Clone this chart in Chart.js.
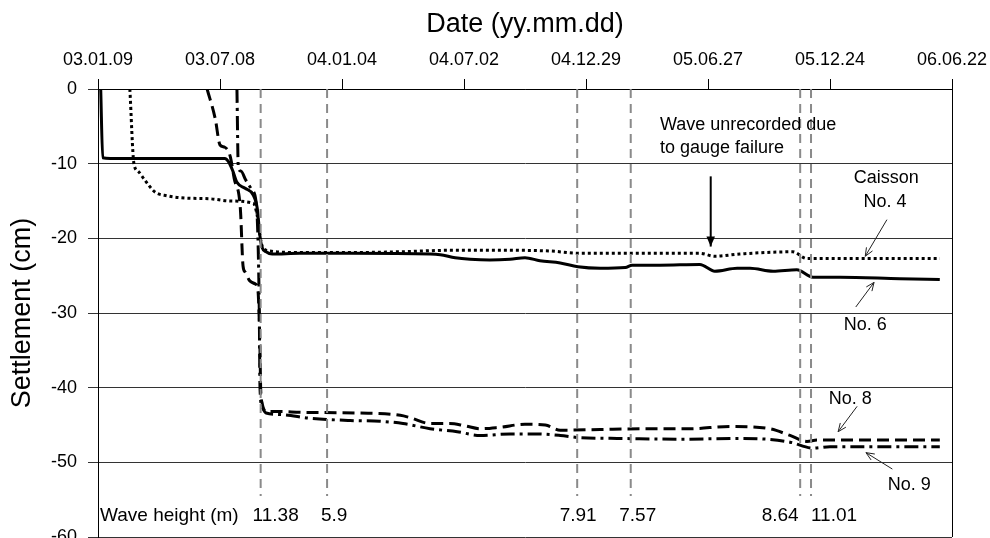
<!DOCTYPE html>
<html>
<head>
<meta charset="utf-8">
<script src="https://cdn.jsdelivr.net/npm/chart.js@4.4.1/dist/chart.umd.min.js"></script>
<style>
  html, body { margin:0; padding:0; background:#fff; overflow:hidden; }
  #wrap { width:990px; height:560px; }
</style>
</head>
<body>
<div id="wrap"><canvas id="chart"></canvas></div>
<script>
// x = days counted from 03.01.09, y = settlement in cm
const BASE = Date.UTC(2003, 0, 9);
const X_MAX = 1260, X_STEP = 180;

// Caisson No. 4 (dotted)
const no4Days = [47, 53, 59, 69, 84, 102, 128, 165, 195, 229, 235, 239, 243, 254, 298, 372, 446, 519, 593, 667, 711, 800, 888, 910, 947, 1025, 1046, 1242];
const no4Vals = [0, -10, -11, -12.2, -13.8, -14.3, -14.6, -14.7, -15.0, -15.3, -17.0, -19.7, -21.2, -21.7, -21.9, -21.9, -21.8, -21.6, -21.6, -21.7, -22.0, -22.0, -22.0, -22.4, -22.1, -21.8, -22.7, -22.7];

// No. 6 (solid)
const no6Days = [4, 7, 18, 187, 193, 199, 205, 217, 229, 235, 239, 242, 248, 257, 298, 372, 490, 505, 527, 549, 578, 608, 630, 652, 682, 708, 741, 778, 788, 829, 888, 910, 943, 962, 996, 1031, 1055, 1095, 1183, 1242];
const no6Vals = [0, -9.2, -9.3, -9.3, -9.8, -11.0, -12.5, -13.3, -14.2, -16.0, -19.7, -21.2, -21.8, -22.1, -22.0, -22.0, -22.1, -22.2, -22.6, -22.8, -22.9, -22.8, -22.6, -23.0, -23.3, -23.8, -24.0, -23.9, -23.6, -23.6, -23.5, -24.4, -24.0, -24.0, -24.4, -24.2, -25.2, -25.2, -25.4, -25.5];

// No. 8 (dashed)
const no8Days = [161, 173, 180, 187, 195, 201, 210, 214, 217, 224, 232, 236, 239, 240, 242, 249, 269, 298, 387, 446, 460, 490, 519, 541, 564, 593, 630, 660, 682, 741, 814, 873, 932, 991, 1021, 1046, 1061, 1242];
const no8Vals = [0, -4, -7.5, -7.8, -9.0, -12.0, -16.0, -23.7, -24.5, -25.7, -26.1, -27, -35, -40.1, -42.0, -43.2, -43.2, -43.3, -43.4, -43.7, -44.0, -44.8, -44.8, -45.1, -45.5, -45.3, -44.9, -45.0, -45.7, -45.6, -45.5, -45.5, -45.2, -45.5, -46.4, -47.2, -47.0, -47.0];

// No. 9 (dash-dot)
const no9Days = [205, 207, 211, 218, 227, 233, 236, 238, 239, 242, 248, 269, 313, 372, 416, 450, 490, 530, 564, 608, 645, 682, 711, 766, 859, 947, 987, 1021, 1055, 1080, 1242];
const no9Vals = [0, -10.5, -11, -12.2, -13.5, -15, -20, -30, -40, -42.5, -43.4, -43.6, -44.1, -44.4, -44.5, -44.8, -45.5, -45.9, -46.4, -46.2, -46.2, -46.4, -46.7, -46.8, -46.9, -46.8, -46.9, -47.3, -48.1, -47.9, -47.9];

// big wave events
const waveDays = [240, 338, 707, 786, 1036, 1052];
const waveHeights = ['11.38', '5.9', '7.91', '7.57', '8.64', '11.01'];
const waveLabelShift = [15, 7, 1, 7, -20, 23]; // px, label placement only
const WAVE_TOP = 0, WAVE_BOTTOM = -54.5;

// text notes (data coords)
const noteText = ['Wave unrecorded due', 'to gauge failure', 'Caisson', 'No. 4', 'No. 6', 'No. 8', 'No. 9'];
const noteX    = [829, 829, 1163, 1161, 1132, 1110, 1197];
const noteY    = [-4.8, -7.9, -11.9, -15.1, -31.6, -41.5, -53.1];
const noteAlign = ['left', 'left', 'center', 'center', 'center', 'center', 'center'];

// leader arrows [x0, y0, x1, y1] (tail -> head)
const leaders = [
  [1164, -17.5, 1132, -22.4],
  [1118, -29.2, 1145, -25.9],
  [1120, -42.5, 1092, -45.9],
  [1172, -50.9, 1133, -48.7]
];
const failArrow = [904, -11.7, 904, -21.1];

const FONT = "'Liberation Sans', Arial, sans-serif";

function pts(days, vals){ return days.map((d, i) => ({ x: d, y: vals[i] })); }

function fmtDate(d){
  const t = new Date(BASE + d * 86400000);
  const p = n => String(n).padStart(2, '0');
  return p(t.getUTCFullYear() % 100) + '.' + p(t.getUTCMonth() + 1) + '.' + p(t.getUTCDate());
}

function series(data, dash){
  return {
    data, borderColor: '#000', borderWidth: 3, borderDash: dash,
    pointRadius: 0, fill: false, cubicInterpolationMode: 'monotone'
  };
}

const waveSets = waveDays.map(d => ({
  data: [{ x: d, y: WAVE_TOP }, { x: d, y: WAVE_BOTTOM }],
  borderColor: '#8a8a8a', borderWidth: 2, borderDash: [9, 6], pointRadius: 0, fill: false
}));

function arrow(ctx, x0, y0, x1, y1, head, filled){
  const a = Math.atan2(y1 - y0, x1 - x0);
  ctx.beginPath(); ctx.moveTo(x0, y0); ctx.lineTo(x1, y1); ctx.stroke();
  ctx.beginPath();
  ctx.moveTo(x1 - head * Math.cos(a - 0.4), y1 - head * Math.sin(a - 0.4));
  ctx.lineTo(x1, y1);
  ctx.lineTo(x1 - head * Math.cos(a + 0.4), y1 - head * Math.sin(a + 0.4));
  if(filled){ ctx.closePath(); ctx.fill(); } else ctx.stroke();
}

const notesPlugin = {
  id: 'notes',
  afterDatasetsDraw(chart){
    const { ctx, chartArea: ca, scales: { x, y } } = chart;
    ctx.save();
    // right frame
    ctx.strokeStyle = '#000'; ctx.lineWidth = 1;
    ctx.beginPath(); ctx.moveTo(ca.right + 0.5, ca.top); ctx.lineTo(ca.right + 0.5, ca.bottom); ctx.stroke();

    ctx.fillStyle = '#000';
    ctx.textBaseline = 'middle';
    ctx.font = '18px ' + FONT;
    noteText.forEach((t, i) => {
      ctx.textAlign = noteAlign[i];
      ctx.fillText(t, x.getPixelForValue(noteX[i]), y.getPixelForValue(noteY[i]));
    });

    // wave heights row
    ctx.font = '19px ' + FONT;
    const rowY = y.getPixelForValue(-57.2);
    ctx.textAlign = 'left';
    ctx.fillText('Wave height (m)', ca.left + 2, rowY);
    ctx.textAlign = 'center';
    waveDays.forEach((d, i) => {
      ctx.fillText(waveHeights[i], x.getPixelForValue(d) + waveLabelShift[i], rowY);
    });

    // arrows
    ctx.strokeStyle = '#000'; ctx.lineWidth = 2;
    arrow(ctx, x.getPixelForValue(failArrow[0]), y.getPixelForValue(failArrow[1]),
               x.getPixelForValue(failArrow[2]), y.getPixelForValue(failArrow[3]), 11, true);
    ctx.strokeStyle = '#222'; ctx.lineWidth = 1;
    leaders.forEach(l => {
      arrow(ctx, x.getPixelForValue(l[0]), y.getPixelForValue(l[1]),
                 x.getPixelForValue(l[2]), y.getPixelForValue(l[3]), 9, false);
    });
    ctx.restore();
  }
};

Chart.defaults.font.family = FONT;
Chart.defaults.color = '#000';

new Chart(document.getElementById('chart'), {
  type: 'line',
  data: {
    datasets: [
      ...waveSets,
      series(pts(no6Days, no6Vals), []),
      series(pts(no4Days, no4Vals), [3, 3]),
      series(pts(no8Days, no8Vals), [12, 6]),
      series(pts(no9Days, no9Vals), [14, 5, 3, 5])
    ]
  },
  options: {
    responsive: true,
    maintainAspectRatio: false,
    animation: false,
    layout: { padding: { left: 0, top: 0, right: 38, bottom: 23 } },
    plugins: { legend: { display: false }, tooltip: { enabled: false } },
    scales: {
      x: {
        type: 'linear', position: 'top', min: 0, max: X_MAX,
        afterFit: s => { s.height = 89; s.paddingLeft = 0; s.paddingRight = 0; },
        ticks: { stepSize: X_STEP, callback: v => fmtDate(v), font: { size: 18 }, padding: 8, maxRotation: 0, color: '#000' },
        grid: { drawOnChartArea: false, tickLength: 10, color: '#000' },
        border: { display: true, color: '#000', width: 1 },
        title: { display: true, text: 'Date (yy.mm.dd)', font: { size: 27 }, padding: { top: 8, bottom: 0 }, color: '#000' }
      },
      y: {
        min: -60, max: 0,
        afterFit: s => { s.width = 98; },
        ticks: { stepSize: 10, font: { size: 18 }, padding: 11, color: '#000' },
        grid: { color: '#333', lineWidth: 1, tickLength: 10 },
        border: { display: true, color: '#000', width: 1 },
        title: { display: true, text: 'Settlement (cm)', font: { size: 27 }, padding: { top: 6, bottom: 0 }, color: '#000' }
      }
    }
  },
  plugins: [notesPlugin]
});
</script>
</body>
</html>
